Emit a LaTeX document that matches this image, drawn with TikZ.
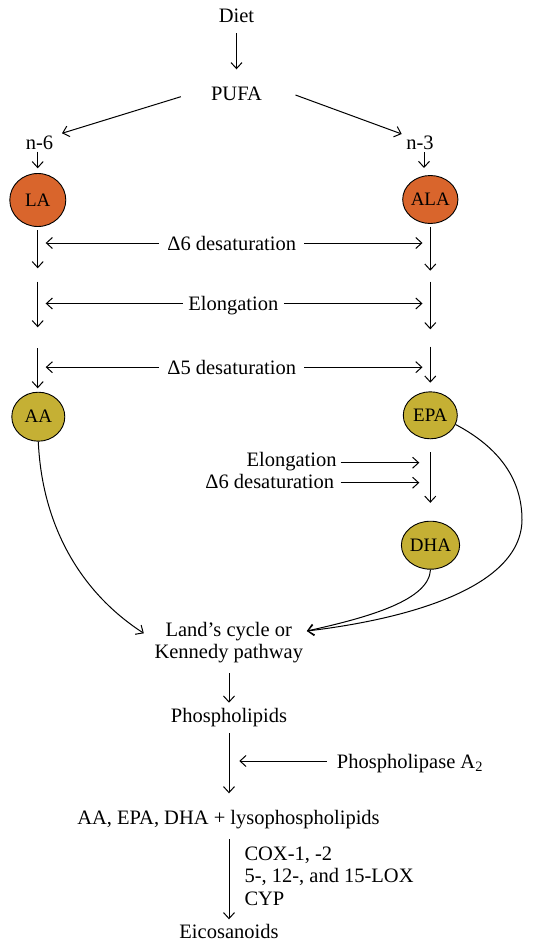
\documentclass[tikz,border=0pt]{standalone}
\usepackage{fontspec}
\setmainfont{Liberation Serif}
\usetikzlibrary{arrows.meta,shapes.geometric,calc}
\definecolor{orng}{RGB}{217,101,44}
\definecolor{oliv}{RGB}{197,176,52}
\begin{document}
\begin{tikzpicture}[x=1pt,y=-1pt,
  lbl/.style={font=\fontsize{20.5}{23}\selectfont, inner sep=0pt, anchor=base},
  fa/.style={ellipse, draw=black, line width=0.9pt, inner sep=0pt,
     font=\fontsize{19}{20}\selectfont},
  n6fa/.style={fa, fill=orng},
  n3fa/.style={fa, fill=oliv},
  arr/.style={draw, line width=1pt, -{Straight Barb[length=6pt,width=11pt]}}]
\useasboundingbox (0,0) rectangle (533,942);

% top
\node[lbl] (diet) at (236.5,22.7) {Diet};
\node[lbl] (pufa) at (236.5,100.7) {PUFA};
\node[lbl] (n6) at (39.5,149) {n-6};
\node[lbl] (n3) at (420,149) {n-3};
\draw[arr] ($(diet.base)+(0,10.6)$) -- ($(pufa.base)+(0,-31.4)$);
\draw[arr] ($(pufa.base west)+(-30,-4)$) -- ($(n6.base)+(22.5,-15.7)$);
\draw[arr] ($(pufa.base east)+(33.3,-5.7)$) -- ($(n3.base)+(-18.3,-15)$);

% fatty acids
\node[n6fa, minimum width=56pt, minimum height=53pt] (la) at (37.8,200) {LA};
\node[n6fa, minimum width=46pt, minimum height=48pt] (ala) at (430.3,199.5) {ALA};
\node[n3fa, minimum width=53pt, minimum height=49pt] (aa) at (38.3,416.7) {AA};
\node[n3fa, minimum width=54pt, minimum height=47pt] (epa) at (430.3,415.3) {EPA};
\node[n3fa, minimum width=53pt, minimum height=48pt] (dha) at (430.5,545.2) {DHA};

\draw[arr] ($(n6.base)+(-1.8,2.7)$) -- ($(n6.base)+(-1.8,19.3)$);
\draw[arr] ($(n3.base)+(4,3)$) -- ($(n3.base)+(4,19)$);

% vertical column arrows
\draw[arr] (37.7,230) -- (37.7,268.3);
\draw[arr] (37.7,281.7) -- (37.7,327.3);
\draw[arr] (37.7,348.3) -- (37.7,388.3);
\draw[arr] (430.3,226.7) -- (430.3,270.7);
\draw[arr] (430.3,281.7) -- (430.3,329.3);
\draw[arr] (430.3,346.7) -- (430.3,382.7);

% enzyme rows
\node[lbl] (d6a) at (231.7,250) {Δ6 desaturation};
\node[lbl] (elo) at (233.3,310.5) {Elongation};
\node[lbl] (d5) at (231.7,374.2) {Δ5 desaturation};
\foreach \n/\g in {d6a/8,elo/5.5,d5/8}{
  \draw[arr] ($(\n.base west)+(-\g,-7)$) -- (45.7,0 |- {$(\n.base west)+(0,-7)$});
  \draw[arr] ($(\n.base east)+(\g,-7)$) -- (422.5,0 |- {$(\n.base east)+(0,-7)$});
}

% EPA -> DHA
\node[lbl, anchor=base east] (elo2) at (336.7,466.3) {Elongation};
\node[lbl, anchor=base east] (d6b) at (334.3,488.8) {Δ6 desaturation};
\draw[arr] ($(elo2.base east)+(4,-3.6)$) -- (419.3,0 |- {$(elo2.base east)+(0,-3.6)$});
\draw[arr] ($(d6b.base east)+(6.4,-6.1)$) -- (419.3,0 |- {$(d6b.base east)+(0,-6.1)$});
\draw[arr, shorten <=12.9pt, shorten >=17.9pt] (epa.south) -- (epa.south |- dha.north);

% Land's cycle
\node[lbl] (land1) at (228.8,636) {Land’s cycle or};
\node[lbl] (land2) at (228.8,658.3) {Kennedy pathway};
\coordinate (tipL) at ($(land1.base west)+(-21.6,-2.7)$);
\coordinate (tipR) at ($(land1.base east)+(14.7,-5)$);
\draw[arr] (aa.south) .. controls (42,525) and (80,592) .. (tipL);
\draw[arr] (dha.south) .. controls (429,600) and (370,617) .. (tipR);
\draw[arr] (epa.-20) .. controls (500,448) and (522,480) .. (522,520)
   .. controls (521,590) and (400,620) .. (tipR);

% bottom
\node[lbl] (phos) at (229,722.3) {Phospholipids};
\node[lbl, anchor=base west] (pla) at (336.7,768.3) {Phospholipase A\textsubscript{2}};
\node[lbl] (free) at (228.5,824) {AA, EPA, DHA + lysophospholipids};
\node[lbl, anchor=base west] (cox1) at (244.3,860) {COX-1, -2};
\node[lbl, anchor=base west] (cox2) at (244.3,882.7) {5-, 12-, and 15-LOX};
\node[lbl, anchor=base west] (cox3) at (244.3,905.7) {CYP};
\node[lbl] (eico) at (229,938.3) {Eicosanoids};

\draw[arr] ($(land2.base)+(0.2,15)$) -- ($(phos.base)+(0,-19.6)$);
\draw[arr] ($(phos.base)+(0,11)$) -- ($(phos.base)+(0,71)$);
\coordinate (plaTip) at (239.3,761);
\draw[arr] ($(pla.base west)+(-10,-7.3)$) -- (plaTip);
\draw[arr] ($(free.base)+(0.5,15.3)$) -- ($(eico.base)+(0,-19)$);
\end{tikzpicture}
\end{document}
